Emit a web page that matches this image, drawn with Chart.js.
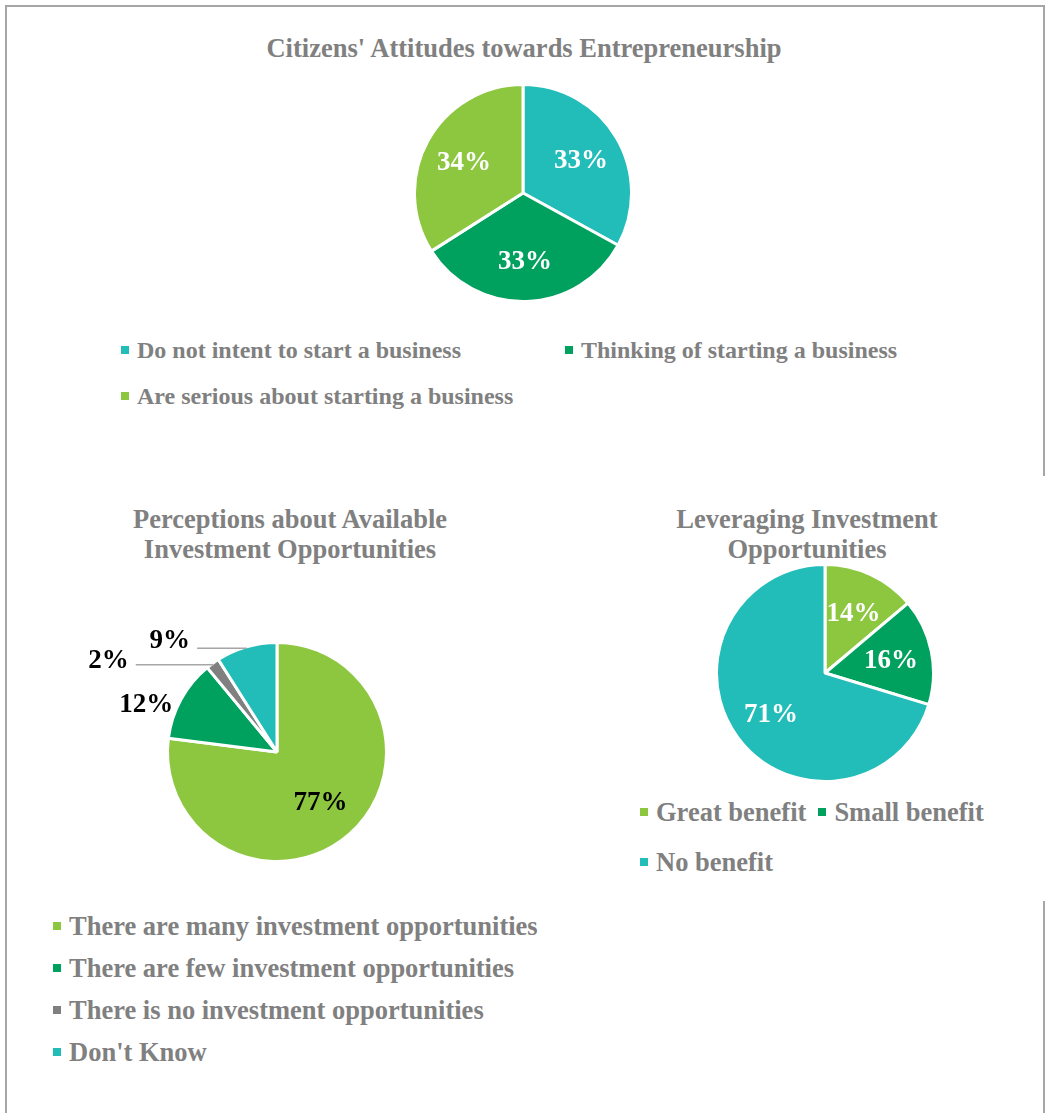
<!DOCTYPE html>
<html lang="en">
<head>
    <meta charset="UTF-8">
    <title>Citizens' Attitudes towards Entrepreneurship</title>
    <script src="https://cdn.jsdelivr.net/npm/chart.js"></script>
    <style>
        body {
            margin: 0;
            background: #fff;
        }
        #page {
            position: relative;
            width: 1045px;
            height: 1113px;
            overflow: hidden;
            font-family: "Liberation Serif", "Times New Roman", serif;
            font-weight: bold;
            color: #808080;
        }
        .line { position: absolute; background: #a6a6a6; }
        .title {
            position: absolute;
            width: 400px;
            text-align: center;
            font-size: 26.5px;
            line-height: 30px;
        }
        canvas { position: absolute; }
        .legend {
            position: absolute;
            display: grid;
            align-items: center;
        }
        .legend .item {
            display: flex;
            align-items: center;
            white-space: nowrap;
        }
        .legend .box {
            width: 8px;
            height: 8px;
            margin-right: 8px;
            flex: none;
        }
    </style>
</head>
<body>
<div id="page">
    <!-- frame -->
    <div class="line" style="left:5px; top:5px; width:1040px; height:2px;"></div>
    <div class="line" style="left:5px; top:5px; width:2px; height:1108px;"></div>
    <div class="line" style="left:1043px; top:5px; width:2px; height:471px;"></div>
    <div class="line" style="left:1043px; top:901px; width:2px; height:212px;"></div>

    <div class="title" style="left:224px; top:33px; width:600px;">Citizens' Attitudes towards Entrepreneurship</div>
    <canvas id="attitudes" width="220" height="220" style="left:413px; top:83px;"></canvas>
    <div class="legend" id="attitudesLegend" style="left:121px; top:327px; grid-template-columns:444px 444px; grid-auto-rows:46px; font-size:24px;"></div>

    <div class="title" style="left:90px; top:504px;">Perceptions about Available<br>Investment Opportunities</div>
    <canvas id="perceptions" width="340" height="280" style="left:60px; top:600px;"></canvas>
    <div class="legend" id="perceptionsLegend" style="left:53px; top:905px; grid-auto-rows:42px; font-size:26.5px;"></div>

    <div class="title" style="left:607px; top:504px;">Leveraging Investment<br>Opportunities</div>
    <canvas id="leverage" width="220" height="220" style="left:715px; top:563px;"></canvas>
    <div class="legend" id="leverageLegend" style="left:640px; top:787px; grid-template-columns:auto auto; column-gap:12px; grid-auto-rows:50px; font-size:26.5px;"></div>
</div>

<script>
    // data
    const attitudeLabels = ['Do not intent to start a business', 'Thinking of starting a business', 'Are serious about starting a business'];
    const attitudeValues = [33, 33, 34];

    const perceptionLabels = ['There are many investment opportunities', 'There are few investment opportunities', 'There is no investment opportunities', "Don't Know"];
    const perceptionValues = [77, 12, 2, 9];

    const leverageLabels = ['Great benefit', 'Small benefit', 'No benefit'];
    const leverageValues = [14, 16, 71];

    const LIME = '#8dc63f', GREEN = '#00a15f', TEAL = '#22bcb9', GREY = '#808080';
    const BORDER = 3;

    // percent labels on / beside the slices
    const sliceLabels = {
        id: 'sliceLabels',
        afterDatasetsDraw(chart, args, opts) {
            const ctx = chart.ctx;
            const meta = chart.getDatasetMeta(0);
            const values = chart.data.datasets[0].data;
            ctx.save();
            ctx.font = opts.font;
            ctx.fillStyle = opts.color;
            ctx.textAlign = 'center';
            ctx.textBaseline = 'middle';
            meta.data.forEach((arc, i) => {
                const p = arc.getProps(['x', 'y', 'startAngle', 'endAngle', 'outerRadius'], true);
                const mid = (p.startAngle + p.endAngle) / 2;
                const text = values[i] + '%';
                const out = opts.outside && opts.outside[i];
                if (!out) {
                    const r = p.outerRadius * opts.inset;
                    ctx.fillText(text, p.x + Math.cos(mid) * r, p.y + Math.sin(mid) * r + 2);
                    return;
                }
                const r = p.outerRadius - BORDER / 2;
                const ax = p.x + Math.cos(mid) * r;
                const ay = p.y + Math.sin(mid) * r;
                const lx = ax + out.dx, ly = ay + out.dy;
                ctx.fillText(text, lx, ly + 2);
                if (out.leader) {
                    const w = ctx.measureText(text).width;
                    ctx.strokeStyle = '#a6a6a6';
                    ctx.lineWidth = 1.5;
                    ctx.beginPath();
                    ctx.moveTo(lx + w / 2 + 7, ay);
                    ctx.lineTo(ax, ay);
                    ctx.stroke();
                }
            });
            ctx.restore();
        }
    };

    // pie placed so the visible circle has centre (cx, cy) and radius r in page pixels
    function makePie(id, box, cx, cy, r, values, colors, labelOpts) {
        const side = 2 * r + 2 * BORDER;
        const padding = {
            left: cx - side / 2 - box.left,
            top: cy - side / 2 - box.top,
            right: box.left + box.width - (cx + side / 2),
            bottom: box.top + box.height - (cy + side / 2)
        };
        return new Chart(document.getElementById(id), {
            type: 'pie',
            data: {
                datasets: [{
                    data: values,
                    backgroundColor: colors,
                    borderColor: '#ffffff',
                    borderWidth: BORDER
                }]
            },
            options: {
                responsive: false,
                animation: false,
                layout: { padding: padding },
                plugins: {
                    legend: { display: false },
                    tooltip: { enabled: false },
                    sliceLabels: labelOpts
                }
            },
            plugins: [sliceLabels]
        });
    }

    function makeLegend(id, labels, colors) {
        const el = document.getElementById(id);
        labels.forEach((label, i) => {
            const item = document.createElement('div');
            item.className = 'item';
            const box = document.createElement('span');
            box.className = 'box';
            box.style.background = colors[i];
            item.appendChild(box);
            item.appendChild(document.createTextNode(label));
            el.appendChild(item);
        });
    }

    const attitudeColors = [TEAL, GREEN, LIME];
    makePie('attitudes', { left: 413, top: 83, width: 220, height: 220 }, 523, 193, 107,
        attitudeValues, attitudeColors,
        { font: 'bold 27px "Liberation Serif"', color: '#ffffff', inset: 0.62 });
    makeLegend('attitudesLegend', attitudeLabels, attitudeColors);

    const perceptionColors = [LIME, GREEN, GREY, TEAL];
    makePie('perceptions', { left: 60, top: 600, width: 340, height: 280 }, 277, 752, 108,
        perceptionValues, perceptionColors,
        {
            font: 'bold 27px "Liberation Serif"', color: '#000000', inset: 0.6,
            outside: [null, { dx: -36, dy: 3 }, { dx: -105, dy: -6, leader: true }, { dx: -77, dy: -9, leader: true }]
        });
    makeLegend('perceptionsLegend', perceptionLabels, perceptionColors);

    const leverageColors = [LIME, GREEN, TEAL];
    makePie('leverage', { left: 715, top: 563, width: 220, height: 220 }, 825, 673, 107,
        leverageValues, leverageColors,
        { font: 'bold 27px "Liberation Serif"', color: '#ffffff', inset: 0.62 });
    makeLegend('leverageLegend', leverageLabels, leverageColors);
</script>
</body>
</html>
